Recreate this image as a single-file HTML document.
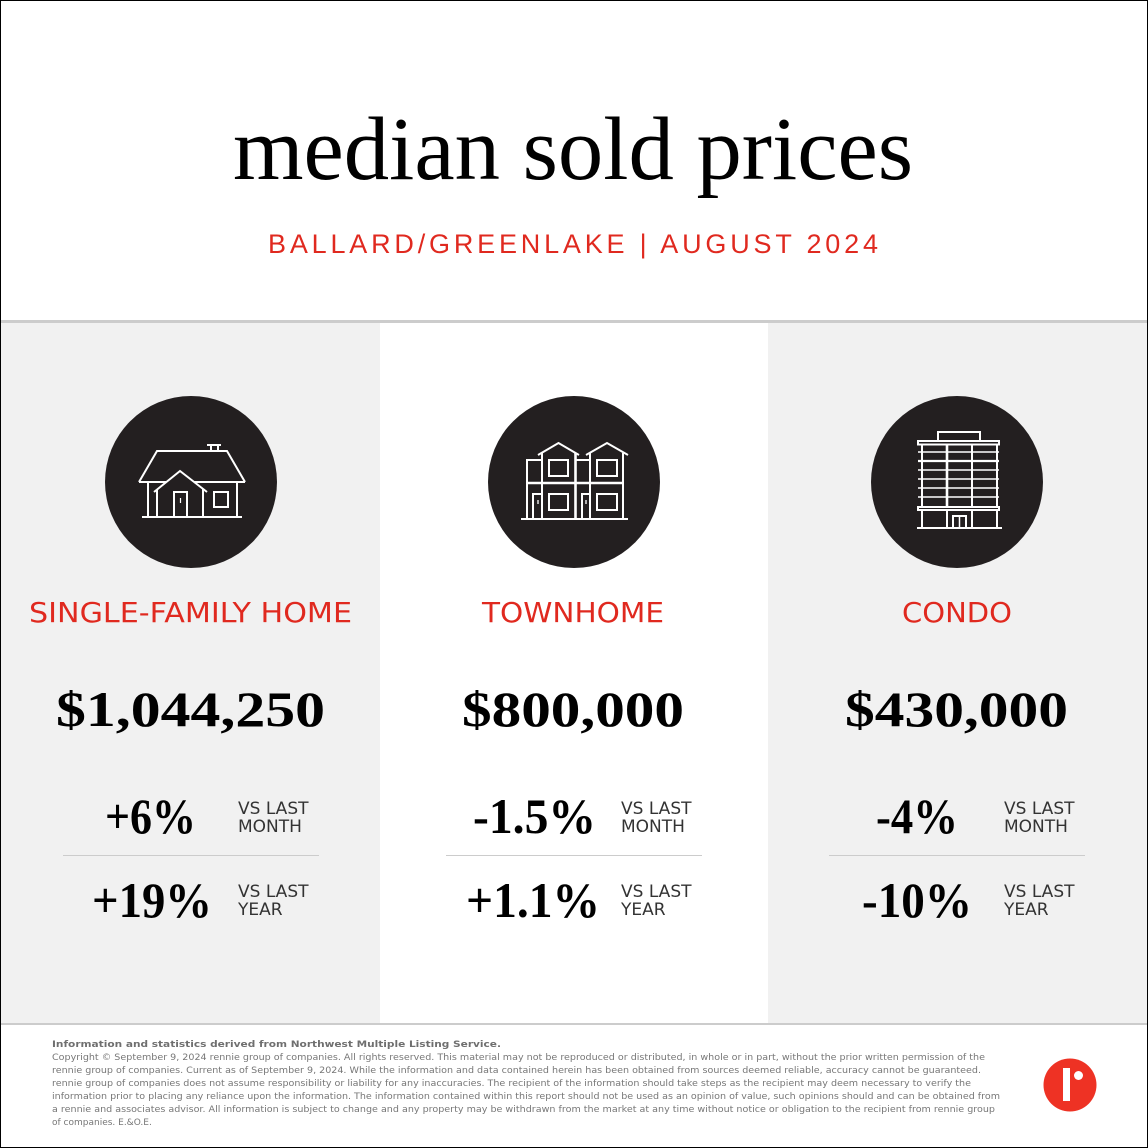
<!DOCTYPE html>
<html><head><meta charset="utf-8"><style>
html,body{margin:0;padding:0;background:#fff;}
svg{display:block;}
</style></head><body>
<svg width="1148" height="1148" viewBox="0 0 1148 1148" xmlns="http://www.w3.org/2000/svg">
<rect x="0" y="0" width="1148" height="1148" fill="#fff"/>
<!-- panels -->
<rect x="0" y="323" width="380" height="700" fill="#f1f1f1"/>
<rect x="768" y="323" width="380" height="700" fill="#f1f1f1"/>
<rect x="0" y="320" width="1148" height="3" fill="#cccccc"/>
<rect x="0" y="1023" width="1148" height="2" fill="#cccccc"/>
<rect x="0.5" y="0.5" width="1147" height="1147" fill="none" stroke="#000" stroke-width="1"/>

<!-- title -->
<text x="233" y="179" font-family="Liberation Serif, serif" font-size="90" fill="#000" textLength="680" lengthAdjust="spacingAndGlyphs">median sold prices</text>
<text x="268" y="253" font-family="Liberation Sans, sans-serif" font-size="27" fill="#e0291f" textLength="610" lengthAdjust="spacing">BALLARD/GREENLAKE | AUGUST 2024</text>

<!-- circles -->
<circle cx="191" cy="482" r="86" fill="#231f20"/>
<circle cx="574" cy="482" r="86" fill="#231f20"/>
<circle cx="957" cy="482" r="86" fill="#231f20"/>

<!-- house icon -->
<g stroke="#fff" stroke-width="2" fill="none" stroke-linejoin="miter">
<path d="M139,482 L157,451 L227,451 L245,482"/>
<path d="M139,482 H166 M194,482 H245"/>
<path d="M207,445 H221 M211,445 V451 M218,445 V451"/>
<path d="M148,482 V517 M237,482 V517"/>
<path d="M154,492 L180,471 L207,492"/>
<path d="M157,490 V517 M203,489 V517"/>
<rect x="174" y="492" width="13" height="25"/>
<path d="M180.5,498 V503" stroke-width="1.2"/>
<rect x="214" y="492" width="14" height="15"/>
<path d="M142,517 H242"/>
</g>

<!-- townhome icon -->
<g stroke="#fff" stroke-width="2" fill="none">
<path d="M538,455 L558.5,443 L579,455"/>
<path d="M586,455 L607,443 L628,455"/>
<path d="M527,519 V460 H542"/>
<path d="M542,519 V453 M590,519 V453 M623,519 V453"/>
<path d="M575.5,519 V453" stroke-width="2.6"/>
<path d="M575,460 H590"/>
<path d="M527,483 H623" stroke-width="2.6"/>
<rect x="549" y="460" width="19" height="16"/>
<rect x="597" y="460" width="20" height="16"/>
<rect x="549" y="494" width="19" height="16"/>
<rect x="597" y="494" width="20" height="16"/>
<path d="M533,519 V494 H542 M582,519 V494 H590"/>
<path d="M538,500 V504 M586,500 V504" stroke-width="1.3"/>
<path d="M521,519 H628"/>
</g>

<!-- condo icon -->
<g stroke="#fff" stroke-width="2" fill="none">
<rect x="938" y="432" width="42" height="9"/>
<rect x="918" y="441" width="81" height="3.5"/>
<path d="M922,444 V507 M972,444 V507 M997,444 V507"/>
<path d="M947,444 V507" stroke-width="2.6"/>
<path d="M918,452 H999 M918,470 H999 M918,479 H999 M918,488 H999 M918,497 H999" stroke-width="1.5"/>
<path d="M918,461 H999" stroke-width="2.2"/>
<rect x="918" y="507" width="81" height="3"/>
<path d="M922,510 V528 M947,510 V528 M972,510 V528 M997,510 V528"/>
<rect x="953" y="516" width="13" height="12"/>
<path d="M959.5,516 V528" stroke-width="1.5"/>
<path d="M917,528 H1002"/>
</g>

<!-- categories -->
<g font-family="DejaVu Sans, sans-serif" font-size="27.5" fill="#e0291f">
<text x="29" y="622" textLength="323" lengthAdjust="spacingAndGlyphs">SINGLE-FAMILY HOME</text>
<text x="482" y="622" textLength="182" lengthAdjust="spacingAndGlyphs">TOWNHOME</text>
<text x="902" y="622" textLength="110" lengthAdjust="spacingAndGlyphs">CONDO</text>
</g>

<!-- prices -->
<g font-family="Liberation Serif, serif" font-weight="bold" font-size="50" fill="#000">
<text x="56" y="726" textLength="269" lengthAdjust="spacingAndGlyphs">$1,044,250</text>
<text x="462" y="726" textLength="222" lengthAdjust="spacingAndGlyphs">$800,000</text>
<text x="845" y="726" textLength="223" lengthAdjust="spacingAndGlyphs">$430,000</text>
</g>

<!-- percents -->
<g font-family="Liberation Serif, serif" font-weight="bold" font-size="50" fill="#000">
<text x="105" y="833" textLength="91" lengthAdjust="spacingAndGlyphs">+6%</text>
<text x="92" y="917" textLength="120" lengthAdjust="spacingAndGlyphs">+19%</text>
<text x="473" y="833" textLength="123" lengthAdjust="spacingAndGlyphs">-1.5%</text>
<text x="466" y="917" textLength="134" lengthAdjust="spacingAndGlyphs">+1.1%</text>
<text x="876" y="833" textLength="82" lengthAdjust="spacingAndGlyphs">-4%</text>
<text x="862" y="917" textLength="110" lengthAdjust="spacingAndGlyphs">-10%</text>
</g>

<!-- dividers -->
<g stroke="#cccccc" stroke-width="1">
<path d="M63,855.5 H319"/>
<path d="M446,855.5 H702"/>
<path d="M829,855.5 H1085"/>
</g>

<!-- vs labels -->
<g font-family="DejaVu Sans, sans-serif" font-size="17" fill="#333">
<text x="238" y="814">VS LAST</text><text x="238" y="832">MONTH</text>
<text x="238" y="897">VS LAST</text><text x="238" y="915">YEAR</text>
<text x="621" y="814">VS LAST</text><text x="621" y="832">MONTH</text>
<text x="621" y="897">VS LAST</text><text x="621" y="915">YEAR</text>
<text x="1004" y="814">VS LAST</text><text x="1004" y="832">MONTH</text>
<text x="1004" y="897">VS LAST</text><text x="1004" y="915">YEAR</text>
</g>

<!-- footer -->
<g font-family="DejaVu Sans, sans-serif" font-size="9" fill="#777">
<text x="52" y="1047" font-weight="bold" fill="#6f6f6f" textLength="449" lengthAdjust="spacingAndGlyphs">Information and statistics derived from Northwest Multiple Listing Service.</text>
<text x="52" y="1060" textLength="933" lengthAdjust="spacingAndGlyphs">Copyright © September 9, 2024 rennie group of companies. All rights reserved. This material may not be reproduced or distributed, in whole or in part, without the prior written permission of the</text>
<text x="52" y="1073" textLength="929" lengthAdjust="spacingAndGlyphs">rennie group of companies. Current as of September 9, 2024. While the information and data contained herein has been obtained from sources deemed reliable, accuracy cannot be guaranteed.</text>
<text x="52" y="1086" textLength="919" lengthAdjust="spacingAndGlyphs">rennie group of companies does not assume responsibility or liability for any inaccuracies. The recipient of the information should take steps as the recipient may deem necessary to verify the</text>
<text x="52" y="1099" textLength="948" lengthAdjust="spacingAndGlyphs">information prior to placing any reliance upon the information. The information contained within this report should not be used as an opinion of value, such opinions should and can be obtained from</text>
<text x="52" y="1112" textLength="943" lengthAdjust="spacingAndGlyphs">a rennie and associates advisor. All information is subject to change and any property may be withdrawn from the market at any time without notice or obligation to the recipient from rennie group</text>
<text x="52" y="1125">of companies. E.&amp;O.E.</text>
</g>

<!-- logo -->
<circle cx="1070" cy="1085" r="26.5" fill="#ee3224"/>
<rect x="1063" y="1068" width="7" height="33" fill="#fff"/>
<circle cx="1078.5" cy="1075.5" r="4.5" fill="#fff"/>
</svg>
</body></html>
